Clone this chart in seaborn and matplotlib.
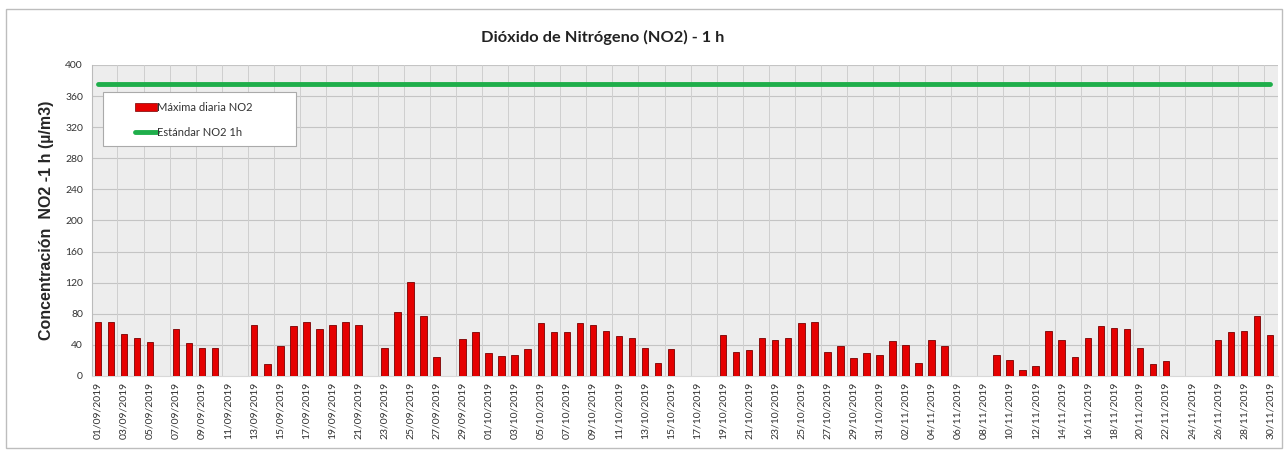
import matplotlib
matplotlib.use("Agg")
import matplotlib.pyplot as plt
import matplotlib.patches as mpatches
from matplotlib.lines import Line2D
from matplotlib.ticker import MultipleLocator
import numpy as np
import pandas as pd
import seaborn as sns

# Daily dates 01/09/2019 .. 30/11/2019
dates = pd.date_range("2019-09-01", "2019-11-30", freq="D")
labels = [d.strftime("%d/%m/%Y") for d in dates]

nan = np.nan
sep_vals = [69, 69, 54, 49, 44, nan, 60, 42, 36, 36, nan, nan, 66, 15, 39, 64, 69, 60, 66, 69,
            66, nan, 36, 82, 121, 77, 24, nan, 48, 56]
oct_vals = [30, 26, 27, 34, 68, 56, 56, 68, 65, 58, 51, 49, 36, 17, 34, nan, nan, nan, 52, 31,
            33, 49, 46, 49, 68, 69, 31, 39, 23, 30, 27]
nov_vals = [45, 40, 17, 46, 39, nan, nan, nan, 27, 21, 7, 13, 58, 46, 24, 49, 64, 62, 60, 36,
            15, 19, nan, nan, nan, 46, 56, 58, 77, 52]
no2_max = sep_vals + oct_vals + nov_vals
standard = 376

df = pd.DataFrame({"fecha": labels, "no2": no2_max})

sns.set_style("white")
plt.rcParams["font.family"] = ["Lato", "DejaVu Sans"]

fig = plt.figure(figsize=(12.84, 4.54), dpi=100)
ax = fig.add_axes([0.0717, 0.172, 0.9236, 0.685])
ax.set_facecolor("#ededed")

sns.barplot(data=df, x="fecha", y="no2", color="#e50000", width=0.5,
            edgecolor="#7a0000", linewidth=0.6, saturation=1, ax=ax, zorder=3)
ax.plot(np.arange(len(labels)), [standard] * len(labels), color="#1fae4b", lw=3.5,
        solid_capstyle="round", zorder=4)

ax.set_xlim(-0.45, len(labels) - 0.4)
ax.set_ylim(0, 400)
ax.yaxis.set_major_locator(MultipleLocator(40))
ax.yaxis.set_minor_locator(MultipleLocator(8))
ax.set_xticks(np.arange(0, len(labels), 2))
ax.set_xticklabels(labels[::2], rotation=90, fontsize=7.5, color="#333333")
ax.tick_params(axis="y", labelsize=7.5, colors="#333333", length=3)
ax.tick_params(axis="y", which="minor", length=2, color="#999999")
ax.tick_params(axis="x", length=0, pad=4)

# grid lines
for y in range(40, 401, 40):
    ax.axhline(y, color="#c4c4c4", lw=0.8, zorder=1)
for x in np.arange(1.5, len(labels), 2):
    ax.axvline(x, color="#cfcfcf", lw=0.7, zorder=1)

for s in ["top", "right"]:
    ax.spines[s].set_visible(False)
ax.spines["left"].set_color("#bbbbbb")
ax.spines["bottom"].set_color("#d8d8d8")

ax.set_xlabel("")
ax.set_ylabel("Concentración  NO2 -1 h (µ/m3)", fontsize=11.5, fontweight="bold",
              family=["Liberation Sans", "DejaVu Sans"], labelpad=8)

fig.text(0.469, 0.918, "Dióxido de Nitrógeno (NO2) - 1 h", ha="center", va="center",
         fontsize=11.8, fontweight="bold", color="#222222")

# legend box (drawn separately to get the wide Excel-style frame)
ax.add_patch(mpatches.Rectangle((0.0093, 0.740), 0.163, 0.173, transform=ax.transAxes,
                                facecolor="white", edgecolor="#aaaaaa", lw=0.8, zorder=5))
handles = [mpatches.Patch(facecolor="#e50000", edgecolor="#7a0000", lw=0.5),
           Line2D([0], [0], color="#1fae4b", lw=3.5)]
leg = ax.legend(handles, ["Máxima diaria NO2", "Estándar NO2 1h"], loc="upper left",
                bbox_to_anchor=(0.036, 0.880), fontsize=8, frameon=False,
                borderpad=0, labelspacing=1.25, handlelength=2.0, handletextpad=0.0,
                borderaxespad=0)
leg.set_zorder(6)
for t in leg.get_texts():
    t.set_color("#333333")

# outer chart border
fig.patches.append(mpatches.Rectangle((6 / 1284, 1 - 448 / 454), 1276 / 1284, 439 / 454,
                                      transform=fig.transFigure, fill=False,
                                      edgecolor="#bdbdbd", lw=1))

fig.savefig("out.png", dpi=100)
